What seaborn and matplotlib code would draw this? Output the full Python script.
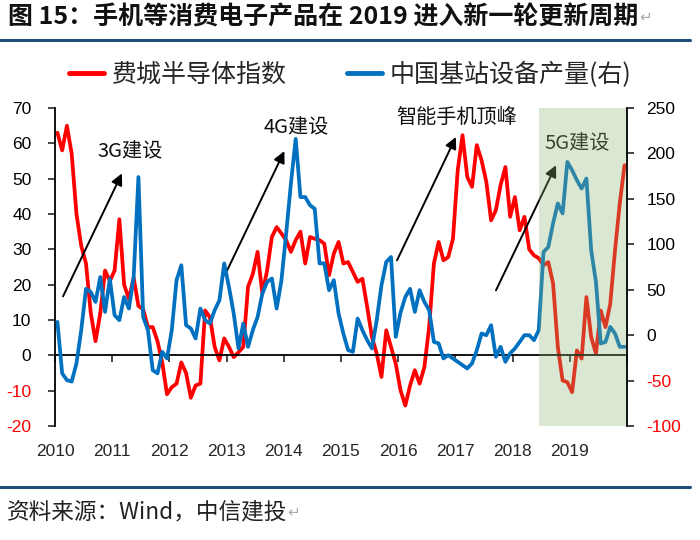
import matplotlib
matplotlib.use("Agg")
import matplotlib.pyplot as plt
from matplotlib.lines import Line2D
import seaborn as sns
import numpy as np
import pandas as pd

sns.set_style("white")
plt.rcParams['font.family'] = ['Noto Sans CJK SC', 'DejaVu Sans']

# monthly, Jan 2010 - Dec 2019
months = pd.date_range("2010-01-01", periods=120, freq="MS")

# Philadelphia semiconductor index, yoy % (left axis)
sox = [63, 58, 65, 57, 40, 31, 26, 12, 4, 12, 24, 21,
       24, 38.5, 20, 16, 22, 14, 13, 8, 8, 4, -2, -11,
       -9, -8, -2, -5, -12, -8.5, -8, 12.7, 10.8, 2.4, -1.4, 4.8,
       2.4, -0.5, 0.9, 2.4, 19.4, 23, 29.3, 17.5, 24, 33.5, 36.3, 34.5,
       32.6, 29.3, 32.6, 35, 26, 33.5, 33, 32.6, 31.6, 22.7, 28.8, 32.1,
       26, 26.4, 23.6, 20.8, 21.7, 13.7, 5.2, 0.5, -6.1, 7.1, 2.4, -2.4,
       -9.9, -14.2, -8.5, -4.2, -8, -3.3, 8, 26, 32.1, 26.9, 27.8, 33,
       52.4, 62.3, 50.5, 47.7, 59.5, 55.2, 49.1, 38.2, 41.1, 48.2, 53.3, 39.2,
       44.8, 35.4, 39.2, 30, 28.3, 27.5, 25.5, 26.4, 20.4, 2.4, -7.1, -7.6,
       -10.4, 1.4, -0.9, 16.5, 5.2, 0.5, 12.7, 8, 14.6, 29.7, 43, 53.8]

# China base station equipment output, yoy % (right axis)
bts = [14.6, -42, -49.5, -51, -31, 5.5, 51, 47.6, 36.6, 64, 25.6, 62,
       22, 16.5, 42, 29.3, 64, 174, 20, 5.5, -38.5, -42, -18.3, -25.6,
       5.5, 60.5, 77, 11, 7.4, -3.6, 29.3, 16.5, 12.8, 27.5, 38.5, 79,
       53, 23.8, -14.6, 12.8, -12.8, 5.5, 20, 45.8, 58.6, 62.4, 29.3, 60,
       112, 167, 216, 152, 152, 143, 139, 79, 79, 49.5, 60.5, 23.8,
       1.8, -16.5, -18.3, 18.3, 5.5, -5.5, -14.6, 16.5, 55, 80.6, 86, -1.8,
       25, 42, 51, 25.6, 49.5, 36.6, 27.5, -7.4, -9.1, -25.6, -22, -25.6,
       -29.3, -33, -36.6, -31, -16.5, 1.8, 0, 11, -23.8, -12.8, -29.3, -20,
       -14.6, -7.4, 0, 0, -5.5, 5.5, 91.6, 97, 123, 145, 134, 190.6,
       181.5, 170.5, 161.4, 172.4, 93.5, 58.6, -9.1, -7.4, 9.1, 1.8, -12.8, -12.8]

series_names = ["费城半导体指数", "中国基站设备产量(右)"]
left_ticks = list(range(-20, 71, 10))
right_ticks = list(range(-100, 251, 50))
years = list(range(2010, 2020))
shade_start, shade_end = 2018.46, 2020

RED = "#FF0000"
BLUE = "#0070C0"
NUM_FONT = ['Liberation Sans', 'DejaVu Sans']

df = pd.DataFrame({"t": months.year + (months.month - 0.5) / 12, "sox": sox, "bts": bts})

fig = plt.figure(figsize=(7, 5.4), dpi=100)
ax = fig.add_axes([0.0786, 0.211, 0.817, 0.589])
sns.lineplot(data=df, x="t", y="sox", ax=ax, color=RED, lw=2.7)
ax2 = ax.twinx()
sns.lineplot(data=df, x="t", y="bts", ax=ax2, color=BLUE, lw=2.7)

ax.set_xlim(2010, 2020)
ax.set_ylim(-20, 70)
ax2.set_ylim(-100, 250)
for a in (ax, ax2):
    a.set_xlabel("")
    a.set_ylabel("")
    a.grid(False)

# axes lines
ax.spines['top'].set_visible(False)
ax.spines['right'].set_visible(False)
ax.spines['bottom'].set_position(('data', 0))
for s in ('top', 'bottom', 'left'):
    ax2.spines[s].set_visible(False)
for s in (ax.spines['left'], ax.spines['bottom'], ax2.spines['right']):
    s.set_color('black')
    s.set_linewidth(1.3)
ax2.spines['right'].set_zorder(5)

ax.set_xticks(range(2010, 2021))
ax.tick_params(axis='x', direction='out', length=5, width=1.2, labelbottom=False, bottom=True)
sec = ax.secondary_xaxis('bottom')
sec.set_xticks(years, labels=[str(y) for y in years])
sec.tick_params(length=0, pad=13, labelsize=12.5)
sec.spines['bottom'].set_visible(False)
for lbl in sec.get_xticklabels():
    lbl.set_fontfamily(NUM_FONT)

ax.set_yticks(left_ticks)
ax.set_yticklabels([str(v) for v in left_ticks], fontsize=12.5, fontfamily=NUM_FONT)
ax.tick_params(axis='y', direction='out', length=5, width=1.2, pad=12, left=True)
for lbl, v in zip(ax.get_yticklabels(), left_ticks):
    lbl.set_color(RED if v < 0 else 'black')

ax2.set_yticks(right_ticks)
ax2.set_yticklabels([str(v) for v in right_ticks], fontsize=12.5, fontfamily=NUM_FONT)
ax2.tick_params(axis='y', direction='out', length=5, width=1.2, pad=9, right=True)
for lbl, v in zip(ax2.get_yticklabels(), right_ticks):
    lbl.set_color(RED if v < 0 else 'black')

# annotations
arrow = dict(arrowstyle="-|>", color='black', lw=1.4, mutation_scale=17, shrinkA=0, shrinkB=0)
notes = [("3G建设", (2010.14, 16.7), (2011.17, 51.5), (2011.31, 57.5)),
         ("4G建设", (2012.97, 22.7), (2014.01, 57.8), (2014.21, 64.4)),
         ("智能手机顶峰", (2015.98, 26.9), (2017.01, 61.8), (2017.02, 67.3)),
         ("5G建设", (2017.71, 18.4), (2018.76, 53.8), (2019.13, 59.8))]
for txt, tail, head, pos in notes:
    ax.annotate("", xy=head, xytext=tail, arrowprops=arrow)
    ax.text(pos[0], pos[1], txt, ha='center', va='center', fontsize=14.5, color='#111111')

# green 5G window, drawn over the lines
ax2.axvspan(shade_start, shade_end, color='#8DB573', alpha=0.32, lw=0, zorder=3)

# legend
handles = [Line2D([], [], color=RED, lw=3.5), Line2D([], [], color=BLUE, lw=3.5)]
fig.legend(handles, series_names, loc='center', bbox_to_anchor=(0.5, 0.862), ncol=2,
           frameon=False, fontsize=18, handlelength=1.4, handletextpad=0.3, columnspacing=2.4)

# title, rules, source
title = fig.text(0.012, 0.968, "图 15：手机等消费电子产品在 2019 进入新一轮更新周期",
                 fontsize=18, fontweight='bold', va='center', color='#111111')
fig.add_artist(Line2D([0, 0.986], [0.926, 0.926], transform=fig.transFigure, color='#1F4E79', lw=2.2))
fig.add_artist(Line2D([0, 0.986], [0.098, 0.098], transform=fig.transFigure, color='#1F4E79', lw=2.2))
source = fig.text(0.01, 0.052, "资料来源：Wind，中信建投", fontsize=16.3, va='center', color='#222222')

fig.canvas.draw()
inv = fig.transFigure.inverted()
for t, y in ((title, 0.968), (source, 0.052)):
    x1 = inv.transform(t.get_window_extent().p1)[0]
    fig.text(x1, y, "↵", fontsize=11, va='center', color='#AAAAAA', family=['DejaVu Sans'])

fig.savefig("out.png", dpi=100)
